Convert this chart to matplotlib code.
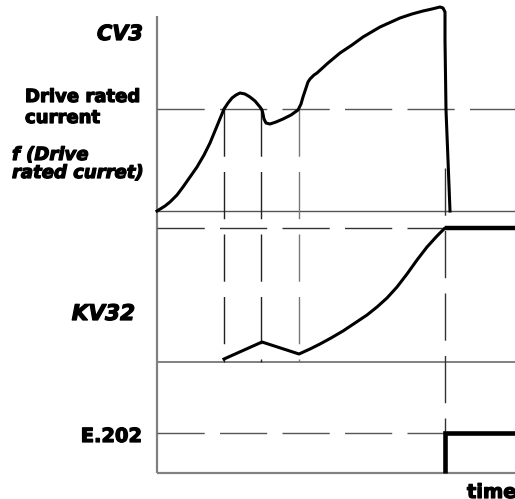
import matplotlib
matplotlib.use("Agg")
import matplotlib.pyplot as plt
import matplotlib.patheffects as pe

plt.rcParams['lines.scale_dashes'] = False

# ---- data (time axis in drawing units, signal levels in drawing units) ----
cv3_time = [157, 165, 170, 177, 183, 190, 197, 204, 210, 217, 224, 228, 232, 236, 240,
            245, 250, 255, 260, 262, 263, 264, 266, 270, 276, 283, 291, 298, 301, 303,
            306, 308, 310, 314, 317, 328, 340, 352, 363, 380, 400, 412, 423, 432, 440,
            443, 445, 445, 446, 448, 450]
cv3_value = [211, 206, 202, 195, 187, 177, 167, 155, 143, 126, 109, 103, 98, 95, 93,
             94, 97, 101, 107, 110, 114, 119, 123, 124, 122, 119, 115, 110, 104, 97,
             88, 82, 79, 75, 73, 63, 53, 45, 37, 27, 18, 14, 11, 9, 7,
             8, 12, 40, 110, 160, 211]

kv32_time = [224, 262, 299, 310, 320, 331, 343, 355, 367, 377, 387, 397, 407, 417,
             427, 437, 445, 515]
kv32_value = [359, 342, 354, 349, 344, 338, 331, 323, 315, 307, 298, 287, 274, 260,
              247, 236, 228, 228]

e202_time = [445, 445, 515]
e202_value = [473, 433, 433]

event_times = [224, 261, 299]
trip_time = 445

levels = {"cv3_base": 211, "rated": 109, "kv32_max": 228, "kv32_base": 362,
          "e202": 433, "bottom": 473}

fig = plt.figure(figsize=(5.15, 4.99), dpi=100)
ax = fig.add_axes([0, 0, 1, 1])
ax.set_xlim(0, 515)
ax.set_ylim(499, 0)
ax.axis('off')

x0, x1 = 157, 515
dash = (0, (34, 11))
gray = '#808080'

# axes lines
ax.plot([x0, x0], [16, levels["bottom"]], color=gray, lw=1.6, solid_capstyle='butt')
ax.plot([x0, x1], [levels["bottom"]] * 2, color=gray, lw=1.6, solid_capstyle='butt')
# baselines
ax.plot([x0, x1], [levels["cv3_base"]] * 2, color='#555555', lw=1.0)
ax.plot([x0, x1], [levels["kv32_base"]] * 2, color=gray, lw=1.4)
# dashed reference lines
ax.plot([x0, x1], [levels["rated"]] * 2, color='#555555', lw=1.0, linestyle=dash)
ax.plot([x0, trip_time], [levels["kv32_max"]] * 2, color='#333333', lw=1.0, linestyle=dash)
ax.plot([x0, trip_time], [levels["e202"]] * 2, color='#555555', lw=1.0, linestyle=dash)
# vertical event lines
for i, t in enumerate(event_times):
    ax.plot([t, t], [levels["rated"], levels["kv32_base"]],
            color='#222222' if i < 2 else '#777777', lw=1.0, linestyle=dash)
ax.plot([trip_time, trip_time], [168, levels["bottom"]], color='#333333', lw=1.0,
        linestyle=dash)

# signals
ax.plot(cv3_time, cv3_value, color='black', lw=2.2, solid_joinstyle='round')
ax.plot(kv32_time, kv32_value, color='black', lw=2.2, solid_joinstyle='round')
ax.plot(kv32_time[-2:], kv32_value[-2:], color='black', lw=3.2, solid_capstyle='butt')
ax.plot(e202_time, e202_value, color='black', lw=3.3, solid_joinstyle='miter',
        solid_capstyle='butt')

# labels
fam = 'DejaVu Sans'
heavy = [pe.withStroke(linewidth=0.9, foreground='black')]
kw = dict(va='baseline', fontweight='bold', family=fam, path_effects=heavy)
ax.text(143, 40, "CV3", ha='right', fontsize=15, fontstyle='italic', **kw)
ax.text(25, 102, "Drive rated", ha='left', fontsize=13, **kw)
ax.text(25, 123, "current", ha='left', fontsize=13, **kw)
ax.text(12, 160, "f (Drive", ha='left', fontsize=13, fontstyle='italic', **kw)
ax.text(12, 178, "rated curret)", ha='left', fontsize=13, fontstyle='italic', **kw)
ax.text(135, 320, "KV32", ha='right', fontsize=15.5, fontstyle='italic', **kw)
ax.text(142, 442, "E.202", ha='right', fontsize=14, **kw)
ax.text(467, 498, "time", ha='left', fontsize=14, **kw)

fig.savefig("out.png", dpi=100)
